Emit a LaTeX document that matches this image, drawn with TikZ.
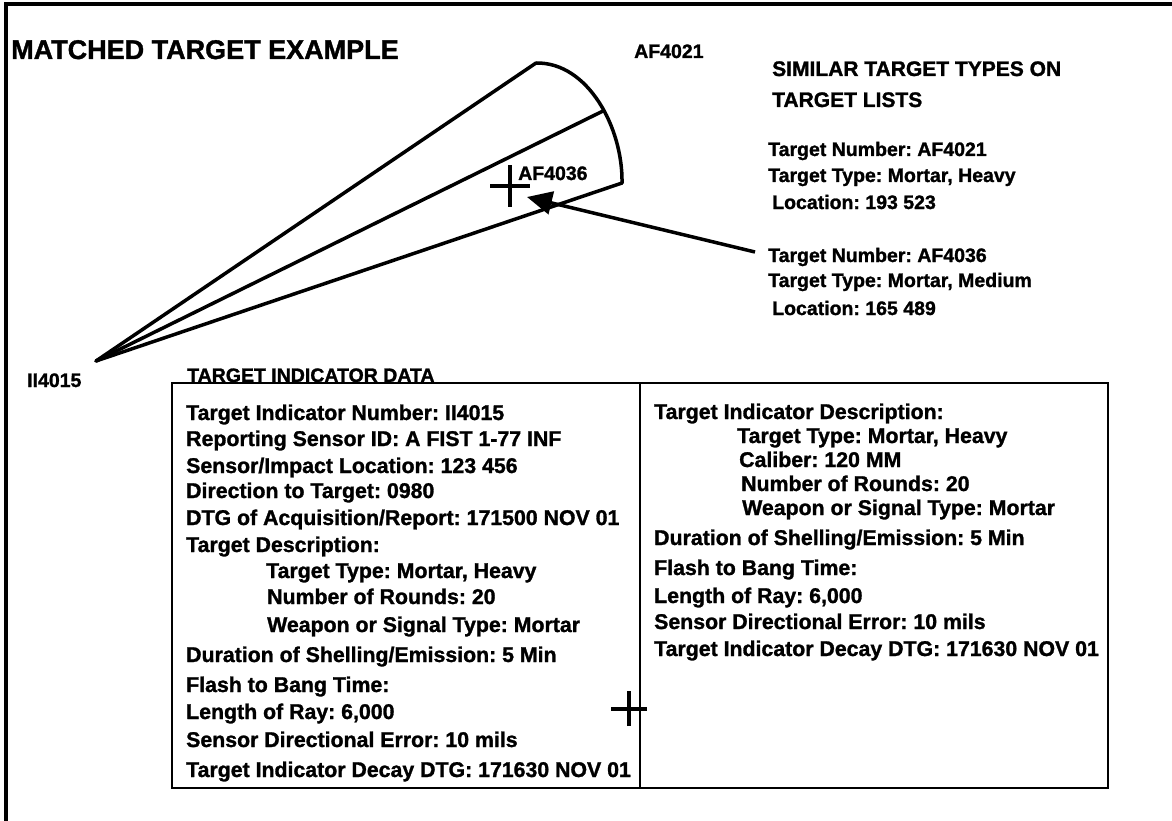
\documentclass[tikz,border=0pt]{standalone}
\usepackage{fontspec}
\setmainfont{Liberation Sans}[BoldFeatures={FakeBold=1.3}]
\usetikzlibrary{arrows.meta}
\begin{document}
\frenchspacing
\begin{tikzpicture}[x=1pt,y=-1pt,
  base/.style={inner sep=0pt, anchor=base west},
  coltxt/.style={base, font=\bfseries\fontsize{21.3}{25}\selectfont},
  listtxt/.style={base, font=\bfseries\fontsize{19.5}{23}\selectfont},
  lbl/.style={base, font=\bfseries\fontsize{19.5}{23}\selectfont},
  heading/.style={base, font=\bfseries\fontsize{21}{25}\selectfont},
  title/.style={base, font=\bfseries\fontsize{27}{31}\selectfont},
  fan/.style={line width=3.5pt, line cap=round, line join=round},
  cross/.style={line width=3.2pt},
  frameline/.style={line width=3.5pt},
  boxline/.style={line width=2pt},
  pointer/.style={line width=3.5pt, -{Triangle[length=25pt,width=23pt]}}
]
\useasboundingbox (0,0) rectangle (1172,821);

% outer frame (top and left only)
\draw[frameline] (1172,4) -- (6,4) -- (6,821);

% titles and labels
\node[title] (ttl) at (11,59) {MATCHED TARGET EXAMPLE};
\node[lbl] (af4021) at (634,58) {AF4021};
\node[lbl] (af4036) at (518,180) {AF4036};
\node[lbl] (ii4015) at (27,387) {II4015};

% fan
\coordinate (apex) at (96,361);
\coordinate (up) at (536,63);
\coordinate (mid) at (603,111);
\coordinate (low) at (622,183);
\draw[fan] (up) -- (apex) -- (low);
\draw[fan] (apex) -- (mid);
\draw[fan] (up) .. controls (588,62) and (623,128) .. (low);

% crosshair 1
\coordinate (c1) at (510,186);
\draw[cross] ([xshift=-20pt]c1) -- ([xshift=20pt]c1);
\draw[cross] ([yshift=-21pt]c1) -- ([yshift=21pt]c1);

% arrow
\coordinate (arrS) at (755,252);
\coordinate (arrT) at (527,197);
\draw[pointer] (arrS) -- (arrT);

% similar target types
\node[heading] (sim1) at (772,76) {SIMILAR TARGET TYPES ON};
\node[heading] (sim2) at (772,107) {TARGET LISTS};
\node[listtxt] (t1a) at (768,156) {Target Number: AF4021};
\node[listtxt] (t1b) at (768,182) {Target Type: Mortar, Heavy};
\node[listtxt] (t1c) at (772,209) {Location: 193 523};
\node[listtxt] (t2a) at (768,262) {Target Number: AF4036};
\node[listtxt] (t2b) at (768,287) {Target Type: Mortar, Medium};
\node[listtxt] (t2c) at (772,315) {Location: 165 489};

% target indicator data box
\node[lbl] (tid) at (187,382) {TARGET INDICATOR DATA};
\draw[boxline] (172,383) rectangle (1108,788);
\draw[line width=1.6pt] (640,383) -- (640,788);

% left column
\node[coltxt] at (186,420) {Target Indicator Number: II4015};
\node[coltxt] at (186,446) {Reporting Sensor ID: A FIST 1-77 INF};
\node[coltxt] at (186,473) {Sensor/Impact Location: 123 456};
\node[coltxt] at (186,498) {Direction to Target: 0980};
\node[coltxt] at (186,525) {DTG of Acquisition/Report: 171500 NOV 01};
\node[coltxt] at (186,552) {Target Description:};
\node[coltxt] at (266,578) {Target Type: Mortar, Heavy};
\node[coltxt] at (267,604) {Number of Rounds: 20};
\node[coltxt] at (267,632) {Weapon or Signal Type: Mortar};
\node[coltxt] at (186,662) {Duration of Shelling/Emission: 5 Min};
\node[coltxt] at (186,692) {Flash to Bang Time:};
\node[coltxt] at (186,719) {Length of Ray: 6,000};
\node[coltxt] at (186,747) {Sensor Directional Error: 10 mils};
\node[coltxt] at (186,777) {Target Indicator Decay DTG: 171630 NOV 01};

% crosshair 2
\coordinate (c2) at (629,709);
\draw[cross] ([xshift=-18pt]c2) -- ([xshift=18pt]c2);
\draw[cross] ([yshift=-17pt]c2) -- ([yshift=18pt]c2);

% right column
\node[coltxt] at (654,419) {Target Indicator Description:};
\node[coltxt] at (737,443) {Target Type: Mortar, Heavy};
\node[coltxt] at (739,467) {Caliber: 120 MM};
\node[coltxt] at (741,491) {Number of Rounds: 20};
\node[coltxt] at (742,515) {Weapon or Signal Type: Mortar};
\node[coltxt] at (654,545) {Duration of Shelling/Emission: 5 Min};
\node[coltxt] at (654,575) {Flash to Bang Time:};
\node[coltxt] at (654,603) {Length of Ray: 6,000};
\node[coltxt] at (654,629) {Sensor Directional Error: 10 mils};
\node[coltxt] at (654,656) {Target Indicator Decay DTG: 171630 NOV 01};
\end{tikzpicture}
\end{document}
